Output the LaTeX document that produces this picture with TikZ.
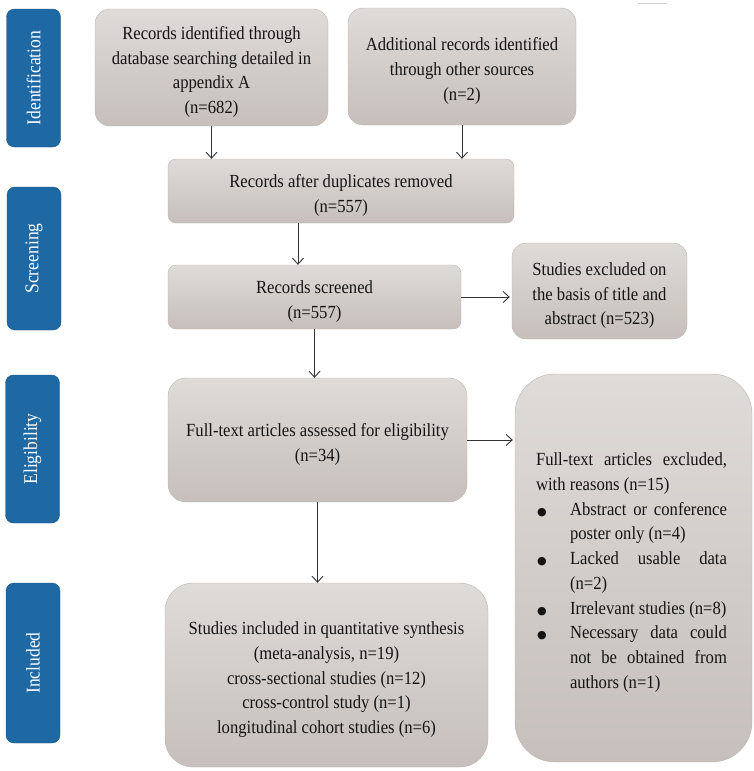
\documentclass[tikz,border=0pt]{standalone}
\usepackage{fontspec}
\setmainfont{Liberation Serif}[FakeStretch=0.9]
\newfontfamily\bulfont{DejaVu Sans}
\usetikzlibrary{arrows.meta,shapes,positioning}

\definecolor{tabblue}{RGB}{30,104,164}
\definecolor{boxtop}{RGB}{223,219,216}
\definecolor{boxbot}{RGB}{198,191,187}
\definecolor{boxline}{RGB}{188,181,177}
\definecolor{inkgray}{RGB}{20,20,20}
\newcommand{\gbul}{\makebox[34pt][l]{\makebox[12pt]{\bulfont\fontsize{11}{11}\selectfont ●}}}
\newcommand{\gind}{\hspace*{34pt}}

\begin{document}
\begin{tikzpicture}[x=1pt, y=-1pt, >={Straight Barb[length=6pt,width=11pt]},
    phase/.style={draw=tabblue!85!black, fill=tabblue, rounded corners=8pt, text=white,
        rotate=90, font=\fontsize{19.5}{19.5}\selectfont, minimum height=54pt, inner sep=0pt},
    box/.style={draw=boxline, top color=boxtop, bottom color=boxbot, rounded corners=#1,
        text=inkgray, align=flush center, inner sep=0pt, font=\fontsize{18.5}{24.7}\selectfont,
        execute at begin node={\rule{0pt}{22pt}}}]
    \useasboundingbox (0,0) rectangle (753,771);
    % phases
    \node[phase, minimum width=138pt] (ident) at (33.5,78) {Identification};
    \node[phase, minimum width=143pt] (screen) at (34,258.5) {Screening};
    \node[phase, minimum width=148pt] (elig) at (32.5,449) {Eligibility};
    \node[phase, minimum width=160pt] (incl) at (33,663) {Included};
    % boxes
    \node[box=15pt, text width=233pt, minimum height=117pt] (found) at (211.5,67.5)
        {Records identified through\\database searching detailed in\\appendix A\\(n=682)};
    \node[box=15pt, text width=228pt, minimum height=117pt] (other) at (462,66.5)
        {Additional records identified\\through other sources\\(n=2)};
    \node[box=8pt, text width=346pt, minimum height=64pt] (dedup) at (341,191)
        {Records after duplicates removed\\(n=557)};
    \node[box=8pt, text width=293pt, minimum height=64pt] (screened) at (314.5,297)
        {Records screened\\(n=557)};
    \node[box=14pt, text width=175pt, minimum height=96pt,
          execute at begin node={\rule{0pt}{14pt}}] (drop1) at (599.5,291)
        {Studies excluded on\\the basis of title and\\abstract (n=523)};
    \node[box=18pt, text width=299pt, minimum height=124pt] (full) at (317.5,440)
        {Full-text articles assessed for eligibility\\(n=34)};
    \node[box=40pt, minimum width=237pt, minimum height=388pt, align=flush left, text width=195pt] (drop2) at (633.5,568)
        {\makebox[191pt][s]{Full-text articles excluded,}\\
         with reasons (n=15)\\
         \gbul\makebox[157pt][s]{Abstract or conference}\\
         \gind poster only (n=4)\\
         \gbul\makebox[157pt][s]{Lacked usable data}\\
         \gind (n=2)\\
         \gbul\makebox[157pt][l]{Irrelevant studies (n=8)}\\
         \gbul\makebox[157pt][s]{Necessary data could}\\
         \gind\makebox[157pt][s]{not be obtained from}\\
         \gind authors (n=1)};
    \node[box=28pt, text width=323pt, minimum height=184pt] (synth) at (326.5,675)
        {Studies included in quantitative synthesis\\(meta-analysis, n=19)\\cross-sectional studies (n=12)\\cross-control study (n=1)\\longitudinal cohort studies (n=6)};
    % arrows
    \path[->, color=black!80, line width=0.9pt]
    (found.south) edge (found.south |- dedup.north)
    (other.south) edge (other.south |- dedup.north)
    ([xshift=-43pt]dedup.south) edge ([xshift=-43pt]dedup.south |- screened.north)
    (screened.east) edge ([xshift=-2pt]screened.east -| drop1.west)
    (screened.south) edge (screened.south |- full.north)
    (full.east) edge ([xshift=-2pt]full.east -| drop2.west)
    (full.south) edge (full.south |- synth.north)
    ;
    \draw[gray!35, line width=0.8pt] (638,3) -- (667,3);
\end{tikzpicture}
\end{document}
